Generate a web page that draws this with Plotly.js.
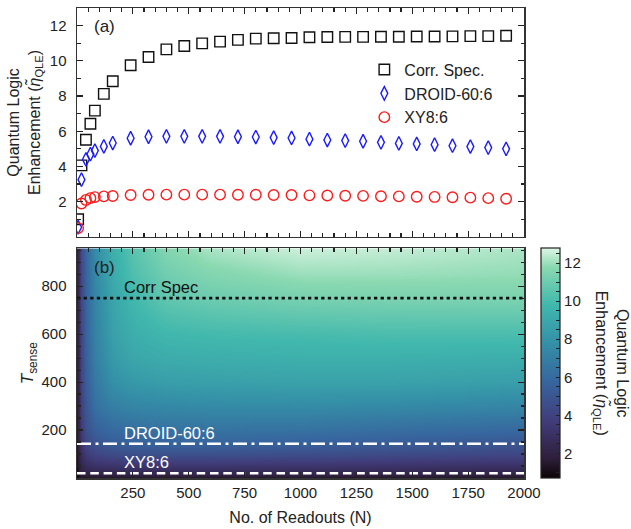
<!DOCTYPE html>
<html><head><meta charset="utf-8">
<script src="https://cdn.plot.ly/plotly-3.0.1.min.js"></script>
<style>html,body{margin:0;padding:0;background:#fff}#chart{width:631px;height:529px}</style>
</head><body><div id="chart"></div>
<script>
// ---- Panel (a) data ----
const readouts = [5,20,40,60,80,120,160,240,320,400,480,560,640,720,800,880,960,1040,1120,1200,1280,1360,1440,1520,1600,1680,1760,1840,1920];
const corrSpec = [1.0,4.06,5.52,6.43,7.17,8.12,8.84,9.75,10.22,10.65,10.84,10.99,11.09,11.19,11.26,11.28,11.3,11.34,11.35,11.36,11.36,11.37,11.37,11.38,11.38,11.39,11.4,11.4,11.42];
const droid = [0.55,3.25,4.4,4.7,4.9,5.14,5.33,5.6,5.69,5.71,5.71,5.71,5.71,5.69,5.67,5.64,5.62,5.55,5.5,5.47,5.43,5.37,5.31,5.28,5.24,5.18,5.13,5.07,5.0];
const xy8 = [0.5,1.9,2.1,2.2,2.26,2.3,2.32,2.38,2.39,2.4,2.4,2.4,2.4,2.39,2.39,2.38,2.38,2.36,2.35,2.34,2.33,2.31,2.3,2.28,2.27,2.25,2.23,2.2,2.17];
const seriesNames = ['Corr. Spec.','DROID-60:6','XY8:6'];

// ---- Panel (b) data ----
const mapN = [0,10,20,40,80,160,250,400,600,1000,1400,2000];
const mapT = [0,20,60,100,143,200,300,400,500,600,750,850,960];
const mapZ = [
  [0.7,1.1,1.2,1.2,1.2,1.2,1.2,1.2,1.2,1.2,1.2,1.2],
  [0.9,1.5,1.9,2.1,2.26,2.32,2.36,2.38,2.38,2.35,2.28,2.17],
  [1.2,1.9,2.45,2.95,3.3,3.45,3.55,3.62,3.62,3.55,3.45,3.25],
  [1.4,2.1,2.8,3.6,4.15,4.45,4.6,4.7,4.7,4.6,4.42,4.2],
  [1.5,2.3,3.25,4.3,4.86,5.33,5.6,5.71,5.71,5.55,5.35,5.0],
  [1.6,2.4,3.6,4.7,5.5,6.0,6.2,6.35,6.4,6.35,6.15,5.9],
  [1.7,2.5,3.9,5.1,6.3,7.0,7.3,7.45,7.55,7.6,7.5,7.3],
  [1.8,2.6,4.1,5.4,6.7,7.8,8.25,8.5,8.6,8.7,8.7,8.5],
  [1.8,2.7,4.2,5.6,7.0,8.3,8.9,9.2,9.3,9.4,9.4,9.3],
  [1.9,2.75,4.25,5.7,7.15,8.6,9.3,9.75,9.9,10.0,10.1,10.1],
  [1.9,2.8,4.3,5.75,7.3,8.9,9.8,10.65,11.0,11.3,11.38,11.42],
  [2.0,2.85,4.35,5.8,7.45,9.15,10.2,11.1,11.6,12.0,12.0,11.9],
  [2.0,2.9,4.4,5.9,7.6,9.4,10.5,11.6,12.2,12.6,12.5,12.2]
];
const lineNames = ['Corr Spec','DROID-60:6','XY8:6'];
const lineT = [750,143,20];
const lineN = [0,2000];

const xTicks = [250,500,750,1000,1250,1500,1750,2000];
const yTicksA = [2,4,6,8,10,12];
const yTicksB = [200,400,600,800];

const mako = [
  [0.0,'#0B0405'],[0.0833,'#2E1E3B'],[0.25,'#413D7B'],[0.4167,'#37659E'],
  [0.5833,'#348FA7'],[0.75,'#40B7AD'],[0.9167,'#8AD9B1'],[1.0,'#DEF5E5']
];

const FONT = 'Liberation Sans, Arial, sans-serif';
const frame = {showline:true, linecolor:'#333', linewidth:1.5, mirror:'ticks',
  ticks:'inside', ticklen:6, tickwidth:1.2, tickcolor:'#222', showgrid:false, zeroline:false,
  tickfont:{size:15, color:'#222'}};

const traces = [];
const mk = [
  {symbol:'square-open', size:10.5, color:'#111'},
  {symbol:'diamond-tall-open', size:9.8, color:'#1a1aff'},
  {symbol:'circle-open', size:10.5, color:'#ff1a1a'}
];
[corrSpec, droid, xy8].forEach((ys,i)=>{
  traces.push({type:'scatter', mode:'markers', x:readouts, y:ys, name:seriesNames[i],
    xaxis:'x', yaxis:'y', cliponaxis:true,
    marker:{symbol:mk[i].symbol, size:mk[i].size, color:mk[i].color, line:{width:1.4, color:mk[i].color}}});
});
traces.push({type:'heatmap', x:mapN, y:mapT, z:mapZ, xaxis:'x2', yaxis:'y2',
  colorscale:mako, zmin:0.7, zmax:12.8, zsmooth:'best', showlegend:false, hoverinfo:'skip',
  colorbar:{x:1.0385, xanchor:'left', xpad:0, ypad:0, y:0, yanchor:'bottom', len:0.489, lenmode:'fraction',
    thickness:18.6, outlinewidth:1.2, outlinecolor:'#222', ticks:'inside', ticklen:4, tickcolor:'#222',
    tickmode:'linear', tick0:0, dtick:0.5, ticklabelstep:4,
    tickfont:{size:15, color:'#222'}}});
const dashes = ['3.3px,3.3px','14px,4.5px,3px,4.5px','8.5px,4.8px'];
const lcol = ['#111','#fff','#fff'];
const lw = [2.8,2.5,2.5];
lineT.forEach((t,i)=>{
  traces.push({type:'scatter', mode:'lines', x:lineN, y:[t,t], xaxis:'x2', yaxis:'y2', showlegend:false,
    hoverinfo:'skip', line:{color:lcol[i], width:lw[i], dash:dashes[i]}});
});

const annotations = [
  {text:'(a)', xref:'x domain', yref:'y domain', x:0.033, y:0.919, xanchor:'left', yanchor:'middle', showarrow:false, font:{size:17, color:'#222'}},
  {text:'(b)', xref:'x2 domain', yref:'y2 domain', x:0.033, y:0.915, xanchor:'left', yanchor:'middle', showarrow:false, font:{size:17, color:'#222'}},
  {text:'Quantum Logic<br>Enhancement (<i>η̃</i><sub>QLE</sub>)', xref:'paper', yref:'paper', x:1.195, y:0.245,
   xanchor:'center', yanchor:'middle', textangle:90, showarrow:false, font:{size:16, color:'#222'}}
];
lineT.forEach((t,i)=>{
  annotations.push({text:lineNames[i], xref:'x2', yref:'y2', x:200, y:t, xanchor:'left', yanchor:'bottom', yshift:0,
    showarrow:false, font:{size:16.5, color: i===0 ? '#111' : '#fff'}});
});

const layout = {
  width:631, height:529, margin:{l:77, r:107, t:8, b:51},
  paper_bgcolor:'#fff', plot_bgcolor:'#fff', font:{family:FONT, color:'#222'},
  xaxis:Object.assign({}, frame, {domain:[0,1], anchor:'y', range:[0,2000], tickmode:'array', tickvals:xTicks,
    showticklabels:false, minor:{dtick:50, tick0:0, ticklen:3.5, ticks:'inside', tickcolor:'#222'}}),
  yaxis:Object.assign({}, frame, {domain:[0.513,1], anchor:'x', range:[0,13], tickmode:'array', tickvals:yTicksA,
    ticklabelstandoff:6, minor:{dtick:1, tick0:0, ticklen:3.5, ticks:'inside', tickcolor:'#222'},
    title:{text:'Quantum Logic<br>Enhancement (<i>η̃</i><sub>QLE</sub>)', font:{size:16, color:'#222'}, standoff:5}}),
  xaxis2:Object.assign({}, frame, {domain:[0,1], anchor:'y2', range:[0,2000], tickmode:'array', tickvals:xTicks,
    minor:{dtick:50, tick0:0, ticklen:3.5, ticks:'inside', tickcolor:'#222'},
    title:{text:'No. of Readouts (N)', font:{size:16, color:'#222'}, standoff:12}}),
  yaxis2:Object.assign({}, frame, {domain:[0,0.4886], anchor:'x2', range:[0,958], tickmode:'array', tickvals:yTicksB,
    ticklabelstandoff:6, minor:{dtick:50, tick0:0, ticklen:3.5, ticks:'inside', tickcolor:'#222'},
    title:{text:'<i>T</i><sub>sense</sub>', font:{size:17, color:'#222'}, standoff:3}}),
  legend:{x:0.6428, y:0.905, xanchor:'left', yanchor:'top', bgcolor:'rgba(0,0,0,0)', borderwidth:0,
    font:{size:16, color:'#222'}, itemwidth:30, tracegroupgap:0},
  annotations:annotations, showlegend:true
};
Plotly.newPlot('chart', traces, layout, {displayModeBar:false, staticPlot:true});
</script></body></html>
